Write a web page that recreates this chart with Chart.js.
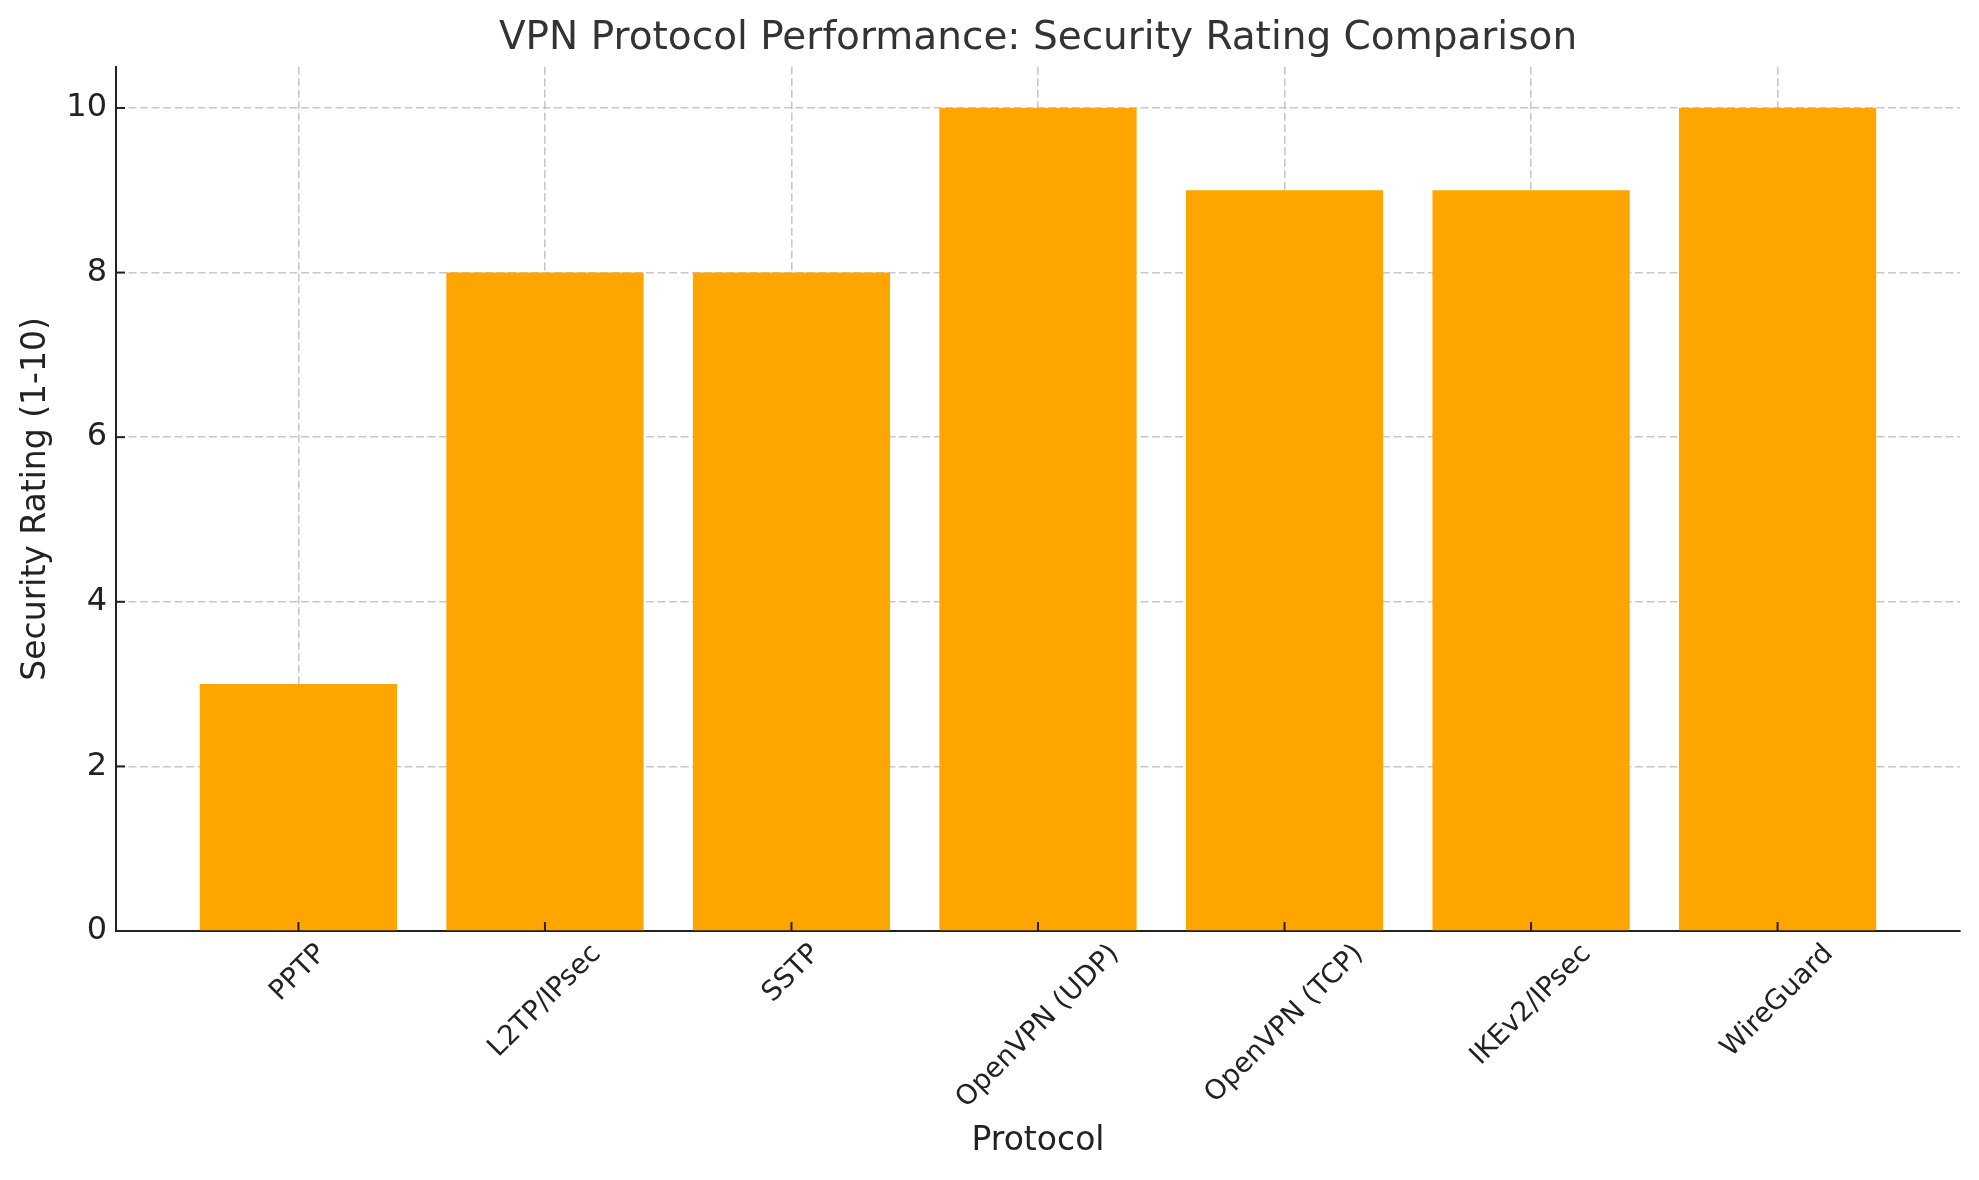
<!DOCTYPE html>
<html>
<head>
<meta charset="utf-8">
<title>VPN Protocol Performance</title>
<script src="https://cdn.jsdelivr.net/npm/chart.js@4.4.1/dist/chart.umd.min.js"></script>
<style>
    html, body { margin: 0; padding: 0; background: #ffffff; }
</style>
</head>
<body>
<canvas id="securityChart" width="1979" height="1180"></canvas>
<script>
const protocols = ['PPTP', 'L2TP/IPsec', 'SSTP', 'OpenVPN (UDP)', 'OpenVPN (TCP)', 'IKEv2/IPsec', 'WireGuard'];
const securityRatings = [3, 8, 8, 10, 9, 9, 10];
const yTickValues = [0, 2, 4, 6, 8, 10];

const FONT = '"DejaVu Sans", "Liberation Sans", sans-serif';
const gridColor = 'rgba(176, 176, 176, 0.7)';

// inward tick marks + rotated category labels centred on each tick (matplotlib style)
const axisDecor = {
    id: 'axisDecor',
    afterDraw(chart) {
        const { ctx, chartArea, scales: { x, y } } = chart;
        ctx.save();
        ctx.strokeStyle = '#222222';
        ctx.lineWidth = 2;
        x.ticks.forEach(t => {
            const px = x.getPixelForValue(t.value);
            ctx.beginPath();
            ctx.moveTo(px, chartArea.bottom);
            ctx.lineTo(px, chartArea.bottom - 9);
            ctx.stroke();
        });
        y.ticks.forEach(t => {
            const py = y.getPixelForValue(t.value);
            ctx.beginPath();
            ctx.moveTo(chartArea.left, py);
            ctx.lineTo(chartArea.left + 9, py);
            ctx.stroke();
        });

        ctx.font = '27.5px ' + FONT;
        ctx.fillStyle = '#222222';
        ctx.textAlign = 'center';
        ctx.textBaseline = 'middle';
        protocols.forEach((name, i) => {
            const px = x.getPixelForValue(i);
            const side = (ctx.measureText(name).width + 27) * Math.SQRT1_2;
            ctx.save();
            ctx.translate(px, chartArea.bottom + 9 + side / 2);
            ctx.rotate(-Math.PI / 4);
            ctx.fillText(name, 0, 0);
            ctx.restore();
        });
        ctx.restore();
    }
};

const ctx = document.getElementById('securityChart').getContext('2d');
new Chart(ctx, {
    type: 'bar',
    data: {
        datasets: [{
            label: 'Security Rating',
            data: securityRatings.map((v, i) => ({ x: i, y: v })),
            backgroundColor: '#FFA500',
            borderWidth: 0,
            barPercentage: 0.8,
            categoryPercentage: 1.0
        }]
    },
    options: {
        responsive: false,
        devicePixelRatio: 1,
        animation: false,
        layout: {
            padding: { left: 0, right: 19, top: 0, bottom: 0 }
        },
        plugins: {
            legend: { display: false },
            tooltip: { enabled: false },
            title: {
                display: true,
                fullSize: false,
                text: 'VPN Protocol Performance: Security Rating Comparison',
                color: '#333333',
                font: { family: FONT, size: 39, weight: 'normal' },
                padding: { top: 15, bottom: 5 }
            }
        },
        scales: {
            x: {
                type: 'linear',
                min: -0.74,
                max: 6.74,
                bounds: 'data',
                offset: false,
                z: 1,
                afterBuildTicks: axis => {
                    axis.ticks = protocols.map((_, i) => ({ value: i }));
                },
                afterFit: scale => { scale.height = 249; },
                ticks: { display: false },
                grid: {
                    offset: false,
                    color: gridColor,
                    lineWidth: 1.6,
                    drawTicks: false
                },
                border: { display: true, color: '#222222', width: 2, dash: [8, 3.5] },
                title: {
                    display: true,
                    text: 'Protocol',
                    color: '#222222',
                    font: { family: FONT, size: 33 },
                    padding: { top: 0, bottom: 19 }
                }
            },
            y: {
                min: 0,
                max: 10.5,
                bounds: 'data',
                z: 1,
                afterBuildTicks: axis => {
                    axis.ticks = yTickValues.map(v => ({ value: v }));
                },
                afterFit: scale => { scale.width = 116; },
                ticks: {
                    color: '#222222',
                    font: { family: FONT, size: 32 },
                    padding: 9
                },
                grid: {
                    color: gridColor,
                    lineWidth: 1.6,
                    drawTicks: false
                },
                border: { display: true, color: '#222222', width: 2, dash: [8, 3.5] },
                title: {
                    display: true,
                    text: 'Security Rating (1-10)',
                    color: '#222222',
                    font: { family: FONT, size: 33 },
                    padding: { top: 17, bottom: 0 }
                }
            }
        }
    },
    plugins: [axisDecor]
});
</script>
</body>
</html>
